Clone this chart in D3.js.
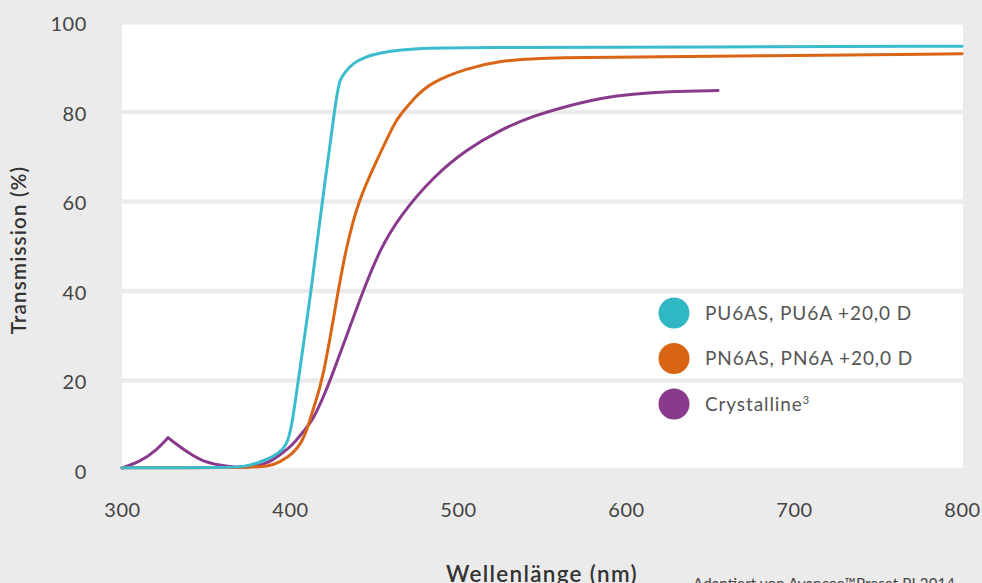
<!DOCTYPE html>
<html><head><meta charset="utf-8">
<script src="https://cdn.jsdelivr.net/npm/d3@7"></script>
<style>
html,body{margin:0;padding:0;background:#ebebeb;overflow:hidden}
svg{display:block}
text{font-family:Lato,"Open Sans",sans-serif}
</style></head>
<body>
<svg id="c" width="982" height="583"></svg>
<script>
const xTicks = [300, 400, 500, 600, 700, 800];
const yTicks = [0, 20, 40, 60, 80, 100];
const seriesNames = ["PU6AS, PU6A +20,0 D", "PN6AS, PN6A +20,0 D", "Crystalline"];
const seriesColors = ["#3bbccd", "#d96516", "#8a3a8d"];
const legendColors = ["#2fb8c4", "#d86415", "#893a8c"];

// wavelength (nm) / transmission (%)
const pu6Wl  = [300, 364.3, 373.2, 380.4, 389.9, 395.8, 398.8, 401.2, 404.8, 412.5, 415.5, 428, 429.8, 432.7, 437.5, 444.6, 453.6, 465.5, 483.3, 501.2, 650, 800];
const pu6T   = [0.5, 0.5, 0.8, 1.5, 2.9, 4.5, 6.5, 10.1, 19.7, 39.8, 49.2, 85.0, 87.2, 88.9, 90.9, 92.3, 93.2, 93.9, 94.3, 94.4, 94.55, 94.7];
const pn6Wl  = [300, 370.2, 388.1, 394, 401.8, 407.1, 410.1, 413.7, 419.6, 428.6, 433.3, 440.5, 451.8, 462.5, 465.5, 474.4, 483.3, 505.4, 525, 548.8, 661.9, 800];
const pn6T   = [0.5, 0.5, 0.8, 1.8, 3.6, 6.3, 8.9, 13.6, 19.9, 40.0, 49.4, 60.1, 69.3, 77.8, 79.3, 83.3, 86.5, 89.8, 91.4, 92.2, 92.5, 93.0];
const cryWl  = [300, 310.7, 320.8, 327.4, 338.7, 348.2, 362.5, 379.2, 388.1, 394, 401.2, 407.7, 413.7, 419.6, 423.8, 433.9, 443.5, 453.6, 465.5, 485.1, 505.4, 525, 544.6, 564.9, 584.5, 604.2, 624.4, 654.8];
const cryT   = [0.45, 1.8, 4.5, 7.2, 4.0, 1.8, 0.7, 0.55, 1.8, 3.4, 5.4, 8.5, 11.2, 16.1, 19.9, 30.2, 40.0, 49.4, 56.8, 65.5, 71.7, 76.0, 79.1, 81.3, 83.1, 84.0, 84.6, 84.8];

const svg = d3.select("#c");
const x = d3.scaleLinear().domain([300, 800]).range([122, 962]);
const y = d3.scaleLinear().domain([0, 100]).range([470, 22.5]);

// plot background
svg.append("rect").attr("x", x(300)).attr("y", y(100)).attr("width", 963 - x(300)).attr("height", y(0) - y(100)).attr("fill", "#fff");

// gridlines (background-coloured bands)
svg.append("g").selectAll("line").data(yTicks).join("line")
  .attr("x1", x(300)).attr("x2", 963)
  .attr("y1", d => y(d)).attr("y2", d => y(d))
  .attr("stroke", "#ebebeb").attr("stroke-width", 4.5);

// y axis labels
const yAxis = d3.axisLeft(y).tickValues(yTicks).tickSize(0).tickPadding(0);
const gy = svg.append("g").attr("transform", "translate(87,1)").call(yAxis);
gy.select(".domain").remove();
gy.selectAll("text").attr("font-size", 20).attr("fill", "#444").attr("font-family", "Lato, sans-serif")
  .attr("letter-spacing", 0.6).attr("dy", "0.36em");

// x axis labels
const xAxis = d3.axisBottom(x).tickValues(xTicks).tickSize(0).tickPadding(0).tickFormat(d3.format("d"));
const gx = svg.append("g").attr("transform", "translate(0,503)").call(xAxis);
gx.select(".domain").remove();
gx.selectAll("text").attr("font-size", 20).attr("fill", "#444").attr("font-family", "Lato, sans-serif")
  .attr("letter-spacing", 0.6).attr("dy", "0.71em");

// axis titles
svg.append("text").attr("transform", "translate(26,250) rotate(-90)").attr("text-anchor", "middle")
  .attr("font-size", 20.5).attr("font-weight", 600).attr("letter-spacing", 1.2).attr("fill", "#333").text("Transmission (%)");
svg.append("text").attr("x", 542).attr("y", 582).attr("text-anchor", "middle")
  .attr("font-size", 22.5).attr("font-weight", 600).attr("letter-spacing", 1.3).attr("fill", "#333").text("Wellenlänge (nm)");
svg.append("text").attr("x", 693).attr("y", 589).attr("textLength", 262).attr("lengthAdjust", "spacing")
  .attr("font-size", 15).attr("fill", "#444").text("Adaptiert von Avancee™Preset PI 2014");

const line = d3.line().x(d => x(d[0])).y(d => y(d[1])).curve(d3.curveBasis);
const zip = (a, b) => a.map((v, i) => [v, b[i]]);

const gL = svg.append("g").attr("fill", "none").attr("stroke-width", 3).attr("stroke-linecap", "round").attr("stroke-linejoin", "round");
// crystalline: split at the cusp peak
const cry = zip(cryWl, cryT);
const peakIdx = d3.maxIndex(cry.slice(0, 8), d => d[1]);
gL.append("path").attr("d", line(cry.slice(0, peakIdx + 1))).attr("stroke", seriesColors[2]);
gL.append("path").attr("d", line(cry.slice(peakIdx))).attr("stroke", seriesColors[2]);
gL.append("path").attr("d", line(zip(pn6Wl, pn6T))).attr("stroke", seriesColors[1]);
gL.append("path").attr("d", line(zip(pu6Wl, pu6T))).attr("stroke", seriesColors[0]);

// legend
const leg = svg.append("g").attr("transform", "translate(674,313)");
const li = leg.selectAll("g").data(seriesNames).join("g").attr("transform", (d, i) => `translate(0,${i * 45.5})`);
li.append("circle").attr("r", 15.5).attr("fill", (d, i) => legendColors[i]);
const lt = li.append("text").attr("x", 31).attr("dy", "0.36em").attr("font-size", 19).attr("letter-spacing", 0.9).attr("fill", "#555").text(d => d);
lt.filter((d, i) => i === 2).append("tspan").attr("font-size", 11).attr("dy", "-0.6em").text("3");
</script>
</body></html>
